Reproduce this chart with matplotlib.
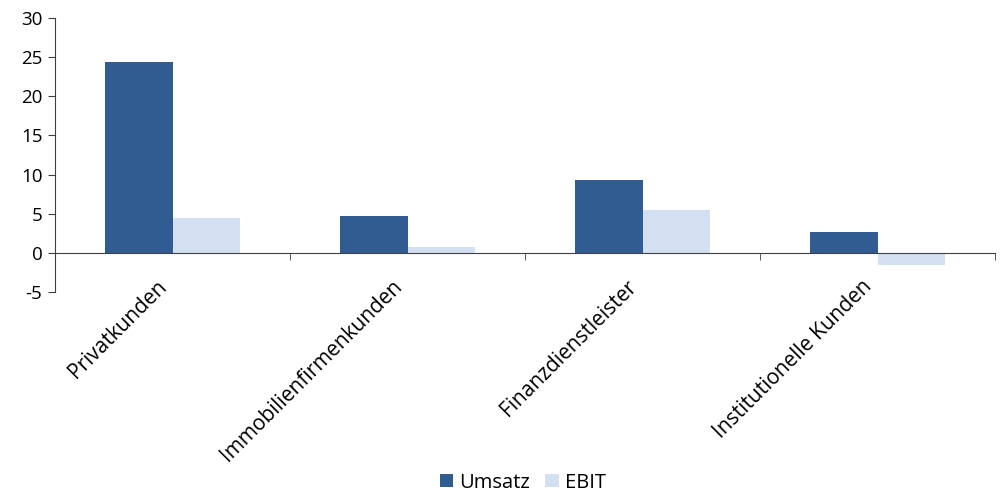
import matplotlib
matplotlib.use("Agg")
import matplotlib.pyplot as plt
import matplotlib.transforms as mtransforms
import numpy as np

plt.rcParams['font.family'] = ['Open Sans', 'DejaVu Sans']

categories = ["Privatkunden", "Immobilienfirmenkunden", "Finanzdienstleister", "Institutionelle Kunden"]
umsatz = [24.4, 4.7, 9.3, 2.7]
ebit = [4.4, 0.8, 5.5, -1.5]
yticks = [-5, 0, 5, 10, 15, 20, 25, 30]

c_umsatz = "#315C91"
c_ebit = "#D3E0F1"
axis_col = "#404040"

fig = plt.figure(figsize=(10.03, 4.91), dpi=100)
ax = fig.add_axes([55 / 1003, 1 - 292 / 491, 940 / 1003, 274 / 491])

x = np.arange(len(categories))
w = 0.286
ax.bar(x - w / 2, umsatz, width=w, color=c_umsatz, label="Umsatz", zorder=2)
ax.bar(x + w / 2, ebit, width=w, color=c_ebit, label="EBIT", zorder=2)

ax.set_xlim(-0.5, len(categories) - 0.5)
ax.set_ylim(-5, 30)
ax.set_yticks(yticks)
ax.set_yticklabels([str(v) for v in yticks], fontsize=13.5)

for s in ("top", "right"):
    ax.spines[s].set_visible(False)
ax.spines["bottom"].set_position(("data", 0))
ax.spines["bottom"].set_color(axis_col)
ax.spines["left"].set_color(axis_col)
ax.spines["bottom"].set_zorder(3)

ax.tick_params(axis="y", direction="out", length=5, color=axis_col, pad=4, labelcolor="black")

# category labels at centers, separator ticks at boundaries
ax.set_xticks(x)
ax.set_xticklabels(categories, rotation=45, ha="right", va="center", rotation_mode="anchor",
                   fontsize=15)
ax.tick_params(axis="x", which="major", length=0, pad=22)
shift = mtransforms.ScaledTranslation(-9 / 100, 0, fig.dpi_scale_trans)
for lbl in ax.get_xticklabels():
    lbl.set_transform(lbl.get_transform() + shift)
ax.set_xticks(np.arange(0.5, len(categories), 1.0), minor=True)
ax.tick_params(axis="x", which="minor", direction="out", length=5, color=axis_col)

leg = fig.legend(loc="lower center", bbox_to_anchor=(0.521, -0.04), ncol=2, frameon=False,
                 fontsize=14.5, handlelength=0.65, handleheight=0.65, handletextpad=0.3,
                 columnspacing=0.8)

fig.savefig("out.png", dpi=100)
